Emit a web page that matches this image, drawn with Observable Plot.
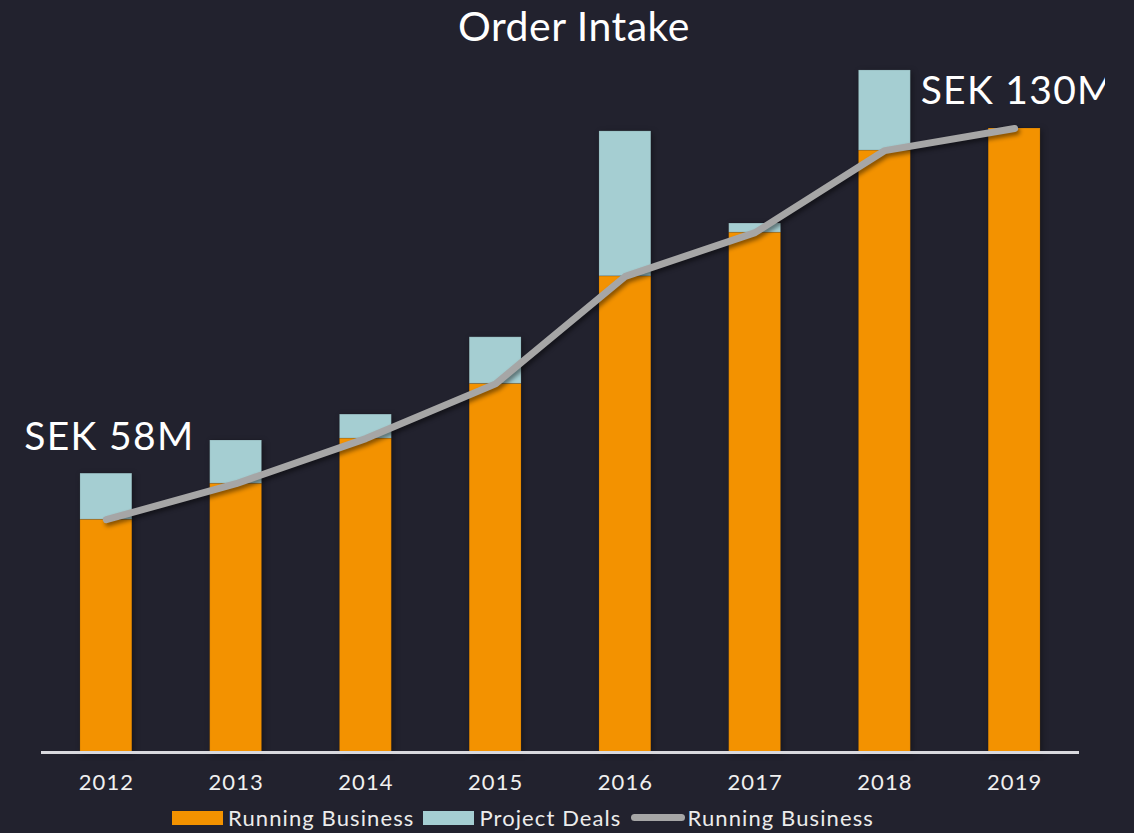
<!DOCTYPE html>
<html>
<head>
<meta charset="utf-8">
<script src="https://cdn.jsdelivr.net/npm/d3@7"></script>
<script src="https://cdn.jsdelivr.net/npm/@observablehq/plot@0.6"></script>
<style>
  html, body { margin: 0; padding: 0; background: #22222e; }
  #wrap { position: relative; width: 1134px; height: 833px; overflow: hidden; background: #22222e; font-family: Lato, "Open Sans", sans-serif; }
  #title { position: absolute; left: 0; width: 1148px; top: 1px; text-align: center; color: #ffffff; font-size: 41px; font-weight: 400; letter-spacing: 0.5px; }
  #chart { position: absolute; left: 0; top: 0; }
  #legend { position: absolute; left: 172px; top: 804px; display: flex; align-items: center; color: #ececec; font-size: 22px; letter-spacing: 1.1px; white-space: nowrap; }
  .sw { display: inline-block; width: 51px; height: 14px; margin-right: 5px; }
  .ln { display: inline-block; width: 54px; height: 7px; border-radius: 4px; background: #a6a6a6; margin-right: 3px; }
  .lab { margin-right: 9px; }
</style>
</head>
<body>
<div id="wrap">
  <div id="chart"></div>
  <div id="title">Order Intake</div>
  <div id="legend"></div>
</div>
<script>
const years = ["2012", "2013", "2014", "2015", "2016", "2017", "2018", "2019"];
const runningBusiness = [48.5, 56.0, 65.4, 76.8, 99.2, 108.3, 125.4, 130.0];
const projectDeals = [9.6, 9.0, 5.0, 9.7, 30.2, 1.9, 16.7, 0];
const seriesNames = ["Running Business", "Project Deals"];
const seriesColors = ["#f39200", "#a5ced2"];
const lineName = "Running Business";
const lineColor = "#a6a6a6";
const annotationYears = ["2012", "2019"];
const annotationValues = [58, 130];
const annotationLabels = ["SEK 58M", "SEK 130M"];

const barData = [];
years.forEach((y, i) => {
  barData.push({year: y, series: seriesNames[0], value: runningBusiness[i]});
  barData.push({year: y, series: seriesNames[1], value: projectDeals[i]});
});
const lineData = years.map((y, i) => ({year: y, value: runningBusiness[i]}));
const annData = annotationYears.map((y, i) => ({year: y, value: annotationValues[i], label: annotationLabels[i]}));

const chart = Plot.plot({
  width: 1134,
  height: 833,
  marginTop: 32,
  marginBottom: 81,
  marginLeft: 41,
  marginRight: 55,
  style: {background: "transparent", fontFamily: "Lato, 'Open Sans', sans-serif"},
  x: {domain: years, paddingInner: 0.6, paddingOuter: 0.3, round: false, label: null, tickSize: 0, tickPadding: 22},
  y: {domain: [0, 150], axis: null},
  color: {domain: seriesNames, range: seriesColors},
  marks: [
    Plot.barY(barData, {x: "year", y: "value", fill: "series", stroke: "#000", strokeOpacity: 0.12, strokeWidth: 1}),
    Plot.ruleY([0], {stroke: "#d9d9de", strokeWidth: 3}),
    Plot.line(lineData, {x: "year", y: "value", stroke: lineColor, strokeWidth: 7, strokeLinecap: "round", strokeLinejoin: "round"}),
    Plot.text(annData, {x: "year", y: "value", text: "label", dy: -37, dx: 3, fill: "#ffffff", fontSize: 39, textAnchor: "middle"})
  ]
});
document.getElementById("chart").appendChild(chart);

const svg = d3.select(chart);
svg.selectAll("g[aria-label='x-axis tick label']")
  .attr("fill", "#f0f0f0").style("font-size", "22px").style("letter-spacing", "1px");
svg.selectAll("g[aria-label='line']").style("filter", "drop-shadow(2px 3px 2px rgba(0,0,0,0.45))");
svg.selectAll("g[aria-label='bar']").style("filter", "drop-shadow(2px 2px 3px rgba(0,0,0,0.35))");

// annotation text: wider tracking, clipped at the right edge like the reference
const clipId = "annclip";
svg.append("defs").append("clipPath").attr("id", clipId).attr("clipPathUnits", "userSpaceOnUse")
  .append("rect").attr("x", 0).attr("y", 0).attr("width", 1105).attr("height", 833);
svg.selectAll("g[aria-label='text']").each(function() {
  const wrapper = document.createElementNS("http://www.w3.org/2000/svg", "g");
  wrapper.setAttribute("clip-path", `url(#${clipId})`);
  this.parentNode.insertBefore(wrapper, this);
  wrapper.appendChild(this);
  this.style.letterSpacing = "1.3px";
});

// legend
const legend = document.getElementById("legend");
seriesNames.forEach((name, i) => {
  const s = document.createElement("span"); s.className = "sw"; s.style.background = seriesColors[i]; legend.appendChild(s);
  const t = document.createElement("span"); t.className = "lab"; t.textContent = name; legend.appendChild(t);
});
const l = document.createElement("span"); l.className = "ln"; l.style.background = lineColor; legend.appendChild(l);
const lt = document.createElement("span"); lt.textContent = lineName; legend.appendChild(lt);
</script>
</body>
</html>
